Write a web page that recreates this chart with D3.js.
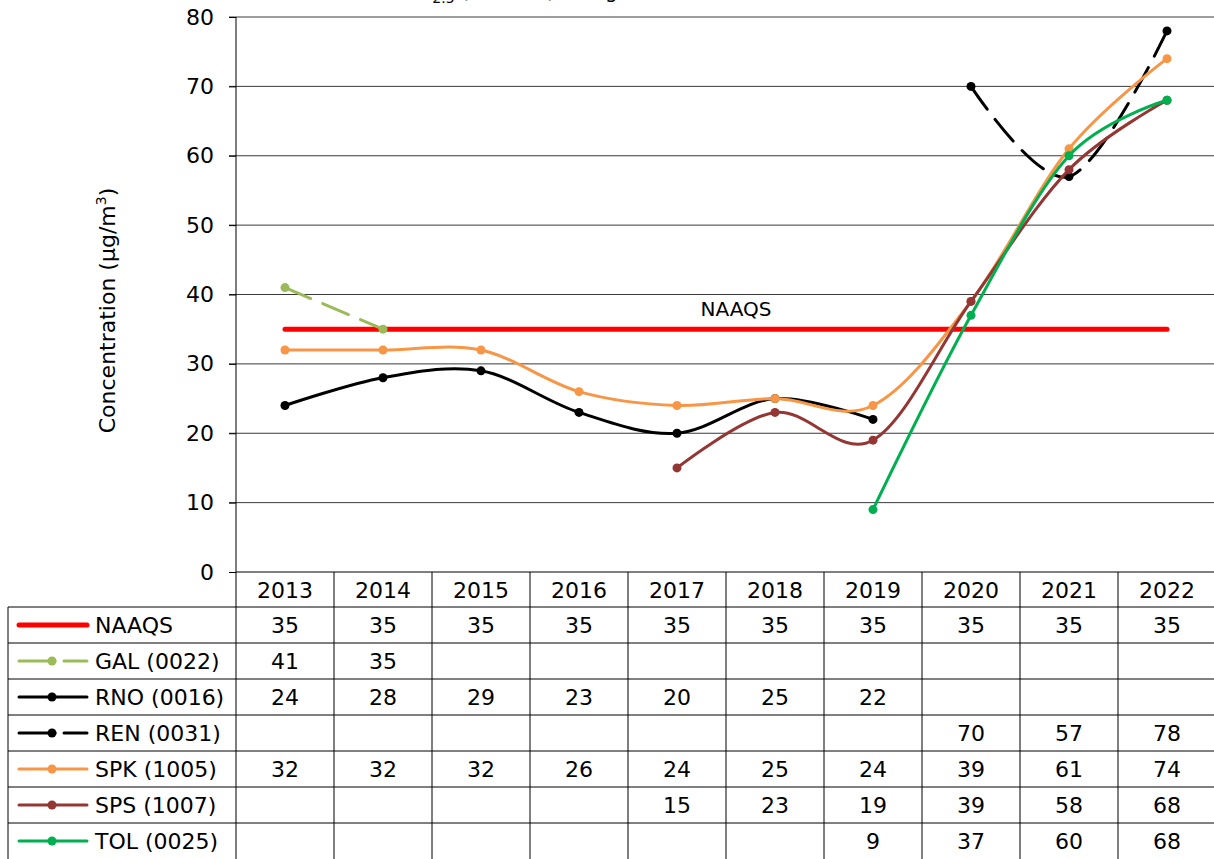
<!DOCTYPE html>
<html>
<head>
<meta charset="utf-8">
<script src="https://cdn.jsdelivr.net/npm/d3@7"></script>
<style>
  body { margin: 0; background: #fff; }
  text { font-family: "DejaVu Sans", sans-serif; fill: #000; }
</style>
</head>
<body>
<div id="chart"></div>
<script>
// chart values
const years = [2013, 2014, 2015, 2016, 2017, 2018, 2019, 2020, 2021, 2022];
const naaqs = [35, 35, 35, 35, 35, 35, 35, 35, 35, 35];
const gal = [41, 35, null, null, null, null, null, null, null, null];
const rno = [24, 28, 29, 23, 20, 25, 22, null, null, null];
const ren = [null, null, null, null, null, null, null, 70, 57, 78];
const spk = [32, 32, 32, 26, 24, 25, 24, 39, 61, 74];
const sps = [null, null, null, null, 15, 23, 19, 39, 58, 68];
const tol = [null, null, null, null, null, null, 9, 37, 60, 68];
const yTicks = [0, 10, 20, 30, 40, 50, 60, 70, 80];

const series = [
  {name: "NAAQS", values: naaqs, color: "#ff0000", width: 5, dash: null, smooth: false, marker: false},
  {name: "GAL (0022)", values: gal, color: "#9bbb59", width: 3, dash: "28,13", smooth: false, marker: true},
  {name: "RNO (0016)", values: rno, color: "#000000", width: 3, dash: null, smooth: true, marker: true},
  {name: "REN (0031)", values: ren, color: "#000000", width: 3, dash: "28,13", smooth: true, marker: true},
  {name: "SPK (1005)", values: spk, color: "#f79646", width: 3, dash: null, smooth: true, marker: true},
  {name: "SPS (1007)", values: sps, color: "#943634", width: 3, dash: null, smooth: true, marker: true},
  {name: "TOL (0025)", values: tol, color: "#00b050", width: 3, dash: null, smooth: true, marker: true}
];

const W = 1214, H = 859;
const plotL = 236, plotR = 1216, plotT = 17, plotB = 572;
const tableLeft = 8, headerH = 35, rowH = 36;
const fs = 22;

const svg = d3.select("#chart").append("svg")
    .attr("width", W)
    .attr("height", H);

const x = d3.scaleBand().domain(years).range([plotL, plotR]);
const y = d3.scaleLinear().domain([0, 80]).range([plotB, plotT]);
const cx = d => x(d) + x.bandwidth() / 2;

// title, mostly off the top of the picture
svg.append("text")
    .attr("x", 403).attr("y", -2)
    .attr("font-size", 20)
    .html('PM<tspan dy="5" font-size="14">2.5</tspan><tspan dy="-5"> (24-hour) Design Values</tspan>');

// gridlines
svg.append("g")
  .selectAll("line")
  .data(yTicks.filter(d => d > 0))
  .join("line")
    .attr("x1", plotL - 7).attr("x2", W)
    .attr("y1", d => y(d)).attr("y2", d => y(d))
    .attr("stroke", "#3a3a3a").attr("stroke-width", 1);

// y axis
const yAxis = svg.append("g")
    .attr("transform", `translate(${plotL},0)`)
    .call(d3.axisLeft(y).tickValues(yTicks).tickSize(7).tickPadding(15));
yAxis.select(".domain").remove();
yAxis.selectAll("line").attr("stroke", "#000");
yAxis.selectAll("text")
    .attr("font-size", fs)
    .attr("font-family", "DejaVu Sans, sans-serif")
    .attr("fill", "#000");

svg.append("line")
    .attr("x1", plotL).attr("x2", plotL)
    .attr("y1", plotT).attr("y2", H)
    .attr("stroke", "#000");

svg.append("text")
    .attr("transform", `translate(115,${(plotT + plotB) / 2 + 16}) rotate(-90)`)
    .attr("text-anchor", "middle")
    .attr("font-size", fs)
    .html('Concentration (μg/m<tspan dy="-9" font-size="14">3</tspan><tspan dy="9">)</tspan>');

// series lines
series.forEach(s => {
  const pts = years.map((yr, i) => ({yr, v: s.values[i]}));
  const line = d3.line()
      .defined(d => d.v != null)
      .x(d => cx(d.yr))
      .y(d => y(d.v))
      .curve(s.smooth ? d3.curveCatmullRom.alpha(0) : d3.curveLinear);
  svg.append("path")
      .datum(pts)
      .attr("d", line)
      .attr("fill", "none")
      .attr("stroke", s.color)
      .attr("stroke-width", s.width)
      .attr("stroke-linecap", "round")
      .attr("stroke-dasharray", s.dash);
  if (s.marker) {
    svg.append("g")
      .selectAll("circle")
      .data(pts.filter(d => d.v != null))
      .join("circle")
        .attr("cx", d => cx(d.yr))
        .attr("cy", d => y(d.v))
        .attr("r", 4.5)
        .attr("fill", s.color);
  }
});

svg.append("text")
    .attr("x", (cx(2017) + cx(2018)) / 2 + 10)
    .attr("y", y(35) - 13)
    .attr("text-anchor", "middle")
    .attr("font-size", 20)
    .text("NAAQS");

// data table
const tbl = svg.append("g").attr("stroke", "#000").attr("stroke-width", 1);
const rowTop = i => plotB + headerH + rowH * i;

tbl.append("line")
    .attr("x1", plotL).attr("x2", W)
    .attr("y1", plotB).attr("y2", plotB);
d3.range(series.length).forEach(i => {
  tbl.append("line")
      .attr("x1", tableLeft).attr("x2", W)
      .attr("y1", rowTop(i)).attr("y2", rowTop(i));
});
tbl.append("line")
    .attr("x1", tableLeft).attr("x2", tableLeft)
    .attr("y1", rowTop(0)).attr("y2", H);
years.forEach(yr => {
  tbl.append("line")
      .attr("x1", x(yr) + x.bandwidth()).attr("x2", x(yr) + x.bandwidth())
      .attr("y1", plotB).attr("y2", H);
});

svg.append("g")
  .selectAll("text")
  .data(years)
  .join("text")
    .attr("x", d => cx(d))
    .attr("y", plotB + 26)
    .attr("text-anchor", "middle")
    .attr("font-size", fs)
    .text(d => d);

series.forEach((s, i) => {
  const ym = rowTop(i) + rowH / 2;
  const g = svg.append("g");
  g.append("line")
      .attr("x1", 19).attr("x2", 87)
      .attr("y1", ym).attr("y2", ym)
      .attr("stroke", s.color)
      .attr("stroke-width", s.width)
      .attr("stroke-linecap", "round")
      .attr("stroke-dasharray", s.dash ? "36,9,40" : null);
  if (s.marker) {
    g.append("circle").attr("cx", 52).attr("cy", ym).attr("r", 4.5).attr("fill", s.color);
  }
  g.append("text")
      .attr("x", 95).attr("y", ym + 8)
      .attr("font-size", fs)
      .text(s.name);
  g.selectAll("text.v")
    .data(years.map((yr, j) => ({yr, v: s.values[j]})).filter(d => d.v != null))
    .join("text")
      .attr("class", "v")
      .attr("x", d => cx(d.yr))
      .attr("y", ym + 8)
      .attr("text-anchor", "middle")
      .attr("font-size", fs)
      .text(d => d.v);
});
</script>
</body>
</html>
